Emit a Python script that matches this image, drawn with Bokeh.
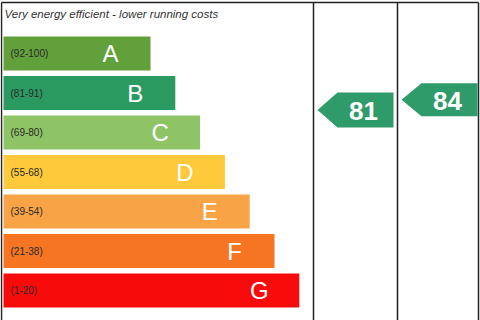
from bokeh.plotting import figure
from bokeh.models import Range1d, ColumnDataSource
from bokeh.core.properties import value
from bokeh.embed import file_html
from bokeh.resources import INLINE

# ---- data ----
bands = ["A", "B", "C", "D", "E", "F", "G"]
ranges = ["(92-100)", "(81-91)", "(69-80)", "(55-68)", "(39-54)", "(21-38)", "(1-20)"]
band_lo = [92, 81, 69, 55, 39, 21, 1]
band_hi = [100, 91, 80, 68, 54, 38, 20]
colors = ["#62a03c", "#2b9a60", "#8ec466", "#ffc93c", "#f8a446", "#f57522", "#f70b0b"]
header = "Very energy efficient - lower running costs"
current = 81
potential = 84
arrow_color = "#2f9a6a"

W, H = 480, 320
p = figure(width=W, height=H, output_backend="svg", toolbar_location=None,
           x_range=Range1d(0, W), y_range=Range1d(H, 0), min_border=0)
p.axis.visible = False
p.grid.visible = False
p.outline_line_color = None
p.background_fill_color = "white"
p.border_fill_color = "white"

# layout constants (styling)
left = 3
top0 = 36
step = 39.5
bar_h = 34
right0 = 150
dx = 24.8

tops = [top0 + step * i for i in range(len(bands))]
bottoms = [t + bar_h for t in tops]
rights = [right0 + dx * i for i in range(len(bands))]
mids = [t + bar_h / 2 for t in tops]

src = ColumnDataSource(dict(left=[left] * len(bands), right=rights, top=tops, bottom=bottoms,
                            color=colors, band=bands, rng=ranges, mid=mids,
                            lx=[r - 40 for r in rights], rx=[left + 7] * len(bands)))
p.quad(left="left", right="right", top="top", bottom="bottom", fill_color="color",
       line_color=None, source=src)
p.text(x="lx", y="mid", text="band", source=src, text_color="white",
       text_font=value("Liberation Sans"), text_font_size="24px",
       text_align="center", text_baseline="middle")
p.text(x="rx", y="mid", text="rng", source=src, text_color="#2a2a2a",
       text_font=value("Liberation Sans"), text_font_size="10px",
       text_align="left", text_baseline="middle")

p.text(x=[left + 1], y=[13], text=[header], text_color="#333333",
       text_font=value("Liberation Sans"), text_font_size="11.5px", text_font_style="italic",
       text_align="left", text_baseline="middle")

# frame lines
col_x = [1, 313, 397, 478]
for x in col_x:
    p.line([x, x], [2, H], line_color="#222222", line_width=1.5)
p.line([col_x[0], col_x[-1]], [2, 2], line_color="#222222", line_width=1.5)


def score_y(v):
    for i in range(len(bands)):
        if band_lo[i] <= v <= band_hi[i]:
            frac = (band_hi[i] - v) / (band_hi[i] - band_lo[i])
            return tops[i] + frac * bar_h
    return tops[-1]


def arrow(v, xl, xr, h):
    yc = score_y(v)
    tip = xl + 4
    notch = tip + 20
    xs = [tip, notch, xr - 4, xr - 4, notch]
    ys = [yc, yc - h / 2, yc - h / 2, yc + h / 2, yc + h / 2]
    p.patch(xs, ys, fill_color=arrow_color, line_color=None)
    p.text(x=[(notch + xr - 4) / 2 - 2], y=[yc + 1], text=[str(v)], text_color="white",
           text_font=value("Liberation Sans"), text_font_size="26px", text_font_style="bold",
           text_align="center", text_baseline="middle")


arrow(current, col_x[1], col_x[2], 35)
arrow(potential, col_x[2], col_x[3] + 3, 33)

open("out.html", "w").write(file_html(p, INLINE))
